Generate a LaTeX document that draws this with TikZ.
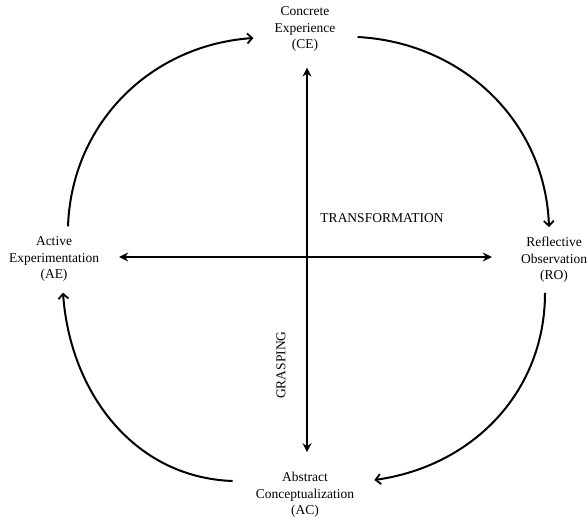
\documentclass[tikz,border=0pt]{standalone}
\usepackage{fontspec}
\setmainfont{Liberation Serif}
\usetikzlibrary{arrows.meta}
\begin{document}
\begin{tikzpicture}[x=1pt,y=1pt,
  stage/.style={align=center,inner sep=0pt,font=\fontsize{13.5}{16.5}\selectfont},
  axislabel/.style={inner sep=0pt,font=\fontsize{13.5}{16.5}\selectfont},
  cycle/.style={line width=2pt,draw=black,-{Straight Barb[length=5pt,width=10pt,line width=1.8pt]}},
  axis/.style={line width=1.7pt,draw=black,{Stealth[length=9pt,width=9pt,inset=3pt]}-{Stealth[length=9pt,width=9pt,inset=3pt]}}]
\useasboundingbox (0,0) rectangle (588,520);
\node[stage] (ce) at (305,491) {Concrete\\Experience\\(CE)};
\node[stage] (ae) at (54,261) {Active\\Experimentation\\(AE)};
\node[stage] (ro) at (554,260) {Reflective\\Observation\\(RO)};
\node[stage] (ac) at (305,25) {Abstract\\Conceptualization\\(AC)};
\node[axislabel] (tr) at (382,302) {TRANSFORMATION};
\node[axislabel,rotate=90] (gr) at (281,155) {GRASPING};
% cross
\draw[axis] ([xshift=2pt,yshift=-16pt]ce.south) -- ([xshift=2pt,yshift=20pt]ac.north);
\draw[axis] ([xshift=20pt,yshift=2pt]ae.east) -- ([xshift=-29pt,yshift=3pt]ro.west);
% cycle
\draw[cycle] ([xshift=14pt,yshift=10pt]ae.north) to[out=88,in=184] ([xshift=-21pt,yshift=-9pt]ce.west);
\draw[cycle] ([xshift=22pt,yshift=-8pt]ce.east) to[out=-3,in=92] ([xshift=-5pt,yshift=10pt]ro.north);
\draw[cycle] ([xshift=-9pt,yshift=-10pt]ro.south) to[out=-90,in=8] ([xshift=20pt,yshift=15pt]ac.east);
\draw[cycle] ([xshift=-23pt,yshift=14pt]ac.west) to[out=178,in=-86] ([xshift=9pt,yshift=-11pt]ae.south);
\end{tikzpicture}
\end{document}
